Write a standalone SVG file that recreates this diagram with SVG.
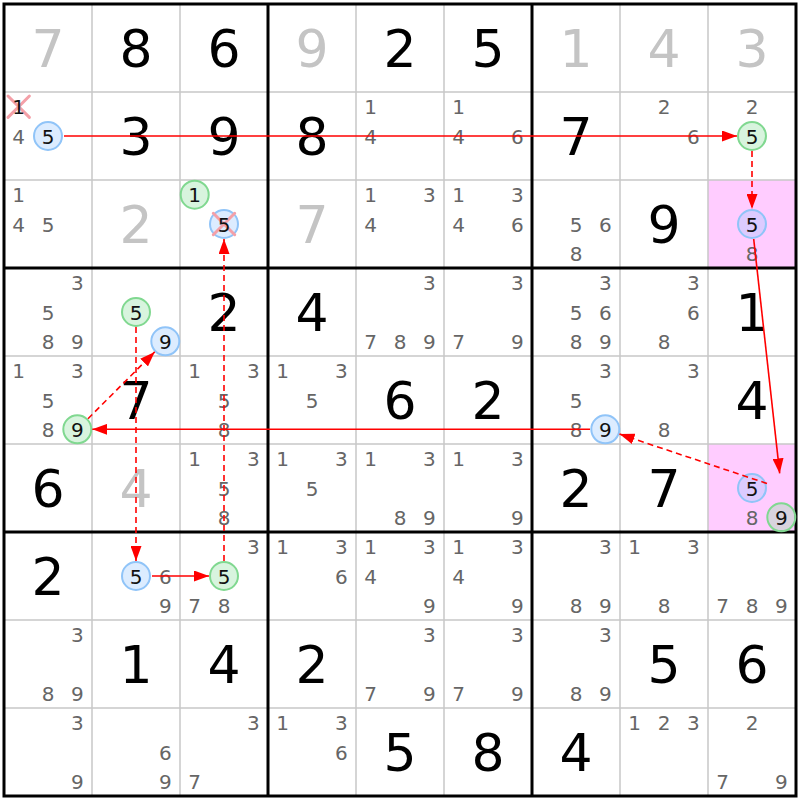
<svg xmlns="http://www.w3.org/2000/svg" width="800" height="800" viewBox="0 0 800 800">
<style>
text{font-family:"DejaVu Sans","Verdana",sans-serif;text-anchor:middle}
.b{font-size:52px;fill:#000}
.g{font-size:52px;fill:#c4c4c4}
.c{font-size:20px;fill:#666}
.k{font-size:20px;fill:#111}
.cb{fill:#9cc8ff;fill-opacity:0.35;stroke:#90c4f8;stroke-width:2}
.cg{fill:#90e0a0;fill-opacity:0.35;stroke:#80d890;stroke-width:2}
.x{stroke:#f4a0a8;stroke-width:3;stroke-linecap:round}
.thin{stroke:#c8c8c8;stroke-width:1.5}
.thick{stroke:#000;stroke-width:3}
.a{stroke:#ff0000;stroke-width:1.6;fill:none}
.d{stroke-dasharray:6,4}
</style>
<defs>
<marker id="ah" markerUnits="userSpaceOnUse" markerWidth="15" markerHeight="11" refX="15" refY="5.5" orient="auto">
<path d="M0,0 L15,5.5 L0,11 z" fill="#ff0000"/>
</marker>
</defs>
<rect x="0" y="0" width="800" height="800" fill="#fff"/>
<g id="highlights">
<rect x="708" y="180" width="88" height="88" fill="#ffccff"/>
<rect x="708" y="444" width="88" height="88" fill="#ffccff"/>
</g>
<g id="grid">
<path class="thin" d="M92,4V796M180,4V796M356,4V796M444,4V796M620,4V796M708,4V796M4,92H796M4,180H796M4,356H796M4,444H796M4,620H796M4,708H796"/>
<path class="thick" d="M268,4V796M532,4V796M4,268H796M4,532H796"/>
<rect x="4" y="4" width="792" height="792" fill="none" stroke="#000" stroke-width="3"/>
</g>
<g id="cells">
<g id="r1c1" transform="translate(4,4)"><text class="g" x="44" y="63">7</text></g>
<g id="r1c2" transform="translate(92,4)"><text class="b" x="44" y="63">8</text></g>
<g id="r1c3" transform="translate(180,4)"><text class="b" x="44" y="63">6</text></g>
<g id="r1c4" transform="translate(268,4)"><text class="g" x="44" y="63">9</text></g>
<g id="r1c5" transform="translate(356,4)"><text class="b" x="44" y="63">2</text></g>
<g id="r1c6" transform="translate(444,4)"><text class="b" x="44" y="63">5</text></g>
<g id="r1c7" transform="translate(532,4)"><text class="g" x="44" y="63">1</text></g>
<g id="r1c8" transform="translate(620,4)"><text class="g" x="44" y="63">4</text></g>
<g id="r1c9" transform="translate(708,4)"><text class="g" x="44" y="63">3</text></g>

<g id="r2c1" transform="translate(4,92)">
<path class="x" d="M4,4L25.4,25.4M25.4,4L4,25.4"/>
<text class="k" x="14.7" y="22.2">1</text>
<text class="c" x="14.7" y="51.5">4</text>
<circle class="cb" cx="44" cy="44" r="14"/><text class="k" x="44" y="51.5">5</text>
</g>
<g id="r2c2" transform="translate(92,92)"><text class="b" x="44" y="63">3</text></g>
<g id="r2c3" transform="translate(180,92)"><text class="b" x="44" y="63">9</text></g>
<g id="r2c4" transform="translate(268,92)"><text class="b" x="44" y="63">8</text></g>
<g id="r2c5" transform="translate(356,92)"><text class="c" x="14.7" y="22.2">1</text><text class="c" x="14.7" y="51.5">4</text></g>
<g id="r2c6" transform="translate(444,92)"><text class="c" x="14.7" y="22.2">1</text><text class="c" x="14.7" y="51.5">4</text><text class="c" x="73.3" y="51.5">6</text></g>
<g id="r2c7" transform="translate(532,92)"><text class="b" x="44" y="63">7</text></g>
<g id="r2c8" transform="translate(620,92)"><text class="c" x="44" y="22.2">2</text><text class="c" x="73.3" y="51.5">6</text></g>
<g id="r2c9" transform="translate(708,92)"><text class="c" x="44" y="22.2">2</text><circle class="cg" cx="44" cy="44" r="14"/><text class="k" x="44" y="51.5">5</text></g>

<g id="r3c1" transform="translate(4,180)"><text class="c" x="14.7" y="22.2">1</text><text class="c" x="14.7" y="51.5">4</text><text class="c" x="44" y="51.5">5</text></g>
<g id="r3c2" transform="translate(92,180)"><text class="g" x="44" y="63">2</text></g>
<g id="r3c3" transform="translate(180,180)">
<circle class="cg" cx="14.7" cy="14.7" r="14"/><text class="k" x="14.7" y="22.2">1</text>
<circle class="cb" cx="44" cy="44" r="14"/>
<path class="x" d="M33.3,33.3L54.7,54.7M54.7,33.3L33.3,54.7"/>
<text class="k" x="44" y="51.5">5</text>
</g>
<g id="r3c4" transform="translate(268,180)"><text class="g" x="44" y="63">7</text></g>
<g id="r3c5" transform="translate(356,180)"><text class="c" x="14.7" y="22.2">1</text><text class="c" x="73.3" y="22.2">3</text><text class="c" x="14.7" y="51.5">4</text></g>
<g id="r3c6" transform="translate(444,180)"><text class="c" x="14.7" y="22.2">1</text><text class="c" x="73.3" y="22.2">3</text><text class="c" x="14.7" y="51.5">4</text><text class="c" x="73.3" y="51.5">6</text></g>
<g id="r3c7" transform="translate(532,180)"><text class="c" x="44" y="51.5">5</text><text class="c" x="73.3" y="51.5">6</text><text class="c" x="44" y="80.8">8</text></g>
<g id="r3c8" transform="translate(620,180)"><text class="b" x="44" y="63">9</text></g>
<g id="r3c9" transform="translate(708,180)"><circle class="cb" cx="44" cy="44" r="14"/><text class="k" x="44" y="51.5">5</text><text class="c" x="44" y="80.8">8</text></g>

<g id="r4c1" transform="translate(4,268)"><text class="c" x="73.3" y="22.2">3</text><text class="c" x="44" y="51.5">5</text><text class="c" x="44" y="80.8">8</text><text class="c" x="73.3" y="80.8">9</text></g>
<g id="r4c2" transform="translate(92,268)"><circle class="cg" cx="44" cy="44" r="14"/><text class="k" x="44" y="51.5">5</text><circle class="cb" cx="73.3" cy="73.3" r="14"/><text class="k" x="73.3" y="80.8">9</text></g>
<g id="r4c3" transform="translate(180,268)"><text class="b" x="44" y="63">2</text></g>
<g id="r4c4" transform="translate(268,268)"><text class="b" x="44" y="63">4</text></g>
<g id="r4c5" transform="translate(356,268)"><text class="c" x="73.3" y="22.2">3</text><text class="c" x="14.7" y="80.8">7</text><text class="c" x="44" y="80.8">8</text><text class="c" x="73.3" y="80.8">9</text></g>
<g id="r4c6" transform="translate(444,268)"><text class="c" x="73.3" y="22.2">3</text><text class="c" x="14.7" y="80.8">7</text><text class="c" x="73.3" y="80.8">9</text></g>
<g id="r4c7" transform="translate(532,268)"><text class="c" x="73.3" y="22.2">3</text><text class="c" x="44" y="51.5">5</text><text class="c" x="73.3" y="51.5">6</text><text class="c" x="44" y="80.8">8</text><text class="c" x="73.3" y="80.8">9</text></g>
<g id="r4c8" transform="translate(620,268)"><text class="c" x="73.3" y="22.2">3</text><text class="c" x="73.3" y="51.5">6</text><text class="c" x="44" y="80.8">8</text></g>
<g id="r4c9" transform="translate(708,268)"><text class="b" x="44" y="63">1</text></g>

<g id="r5c1" transform="translate(4,356)"><text class="c" x="14.7" y="22.2">1</text><text class="c" x="73.3" y="22.2">3</text><text class="c" x="44" y="51.5">5</text><text class="c" x="44" y="80.8">8</text><circle class="cg" cx="73.3" cy="73.3" r="14"/><text class="k" x="73.3" y="80.8">9</text></g>
<g id="r5c2" transform="translate(92,356)"><text class="b" x="44" y="63">7</text></g>
<g id="r5c3" transform="translate(180,356)"><text class="c" x="14.7" y="22.2">1</text><text class="c" x="73.3" y="22.2">3</text><text class="c" x="44" y="51.5">5</text><text class="c" x="44" y="80.8">8</text></g>
<g id="r5c4" transform="translate(268,356)"><text class="c" x="14.7" y="22.2">1</text><text class="c" x="73.3" y="22.2">3</text><text class="c" x="44" y="51.5">5</text></g>
<g id="r5c5" transform="translate(356,356)"><text class="b" x="44" y="63">6</text></g>
<g id="r5c6" transform="translate(444,356)"><text class="b" x="44" y="63">2</text></g>
<g id="r5c7" transform="translate(532,356)"><text class="c" x="73.3" y="22.2">3</text><text class="c" x="44" y="51.5">5</text><text class="c" x="44" y="80.8">8</text><circle class="cb" cx="73.3" cy="73.3" r="14"/><text class="k" x="73.3" y="80.8">9</text></g>
<g id="r5c8" transform="translate(620,356)"><text class="c" x="73.3" y="22.2">3</text><text class="c" x="44" y="80.8">8</text></g>
<g id="r5c9" transform="translate(708,356)"><text class="b" x="44" y="63">4</text></g>

<g id="r6c1" transform="translate(4,444)"><text class="b" x="44" y="63">6</text></g>
<g id="r6c2" transform="translate(92,444)"><text class="g" x="44" y="63">4</text></g>
<g id="r6c3" transform="translate(180,444)"><text class="c" x="14.7" y="22.2">1</text><text class="c" x="73.3" y="22.2">3</text><text class="c" x="44" y="51.5">5</text><text class="c" x="44" y="80.8">8</text></g>
<g id="r6c4" transform="translate(268,444)"><text class="c" x="14.7" y="22.2">1</text><text class="c" x="73.3" y="22.2">3</text><text class="c" x="44" y="51.5">5</text></g>
<g id="r6c5" transform="translate(356,444)"><text class="c" x="14.7" y="22.2">1</text><text class="c" x="73.3" y="22.2">3</text><text class="c" x="44" y="80.8">8</text><text class="c" x="73.3" y="80.8">9</text></g>
<g id="r6c6" transform="translate(444,444)"><text class="c" x="14.7" y="22.2">1</text><text class="c" x="73.3" y="22.2">3</text><text class="c" x="73.3" y="80.8">9</text></g>
<g id="r6c7" transform="translate(532,444)"><text class="b" x="44" y="63">2</text></g>
<g id="r6c8" transform="translate(620,444)"><text class="b" x="44" y="63">7</text></g>
<g id="r6c9" transform="translate(708,444)"><circle class="cb" cx="44" cy="44" r="14"/><text class="k" x="44" y="51.5">5</text><text class="c" x="44" y="80.8">8</text><circle class="cg" cx="73.3" cy="73.3" r="14"/><text class="k" x="73.3" y="80.8">9</text></g>

<g id="r7c1" transform="translate(4,532)"><text class="b" x="44" y="63">2</text></g>
<g id="r7c2" transform="translate(92,532)"><circle class="cb" cx="44" cy="44" r="14"/><text class="k" x="44" y="51.5">5</text><text class="c" x="73.3" y="51.5">6</text><text class="c" x="73.3" y="80.8">9</text></g>
<g id="r7c3" transform="translate(180,532)"><text class="c" x="73.3" y="22.2">3</text><circle class="cg" cx="44" cy="44" r="14"/><text class="k" x="44" y="51.5">5</text><text class="c" x="14.7" y="80.8">7</text><text class="c" x="44" y="80.8">8</text></g>
<g id="r7c4" transform="translate(268,532)"><text class="c" x="14.7" y="22.2">1</text><text class="c" x="73.3" y="22.2">3</text><text class="c" x="73.3" y="51.5">6</text></g>
<g id="r7c5" transform="translate(356,532)"><text class="c" x="14.7" y="22.2">1</text><text class="c" x="73.3" y="22.2">3</text><text class="c" x="14.7" y="51.5">4</text><text class="c" x="73.3" y="80.8">9</text></g>
<g id="r7c6" transform="translate(444,532)"><text class="c" x="14.7" y="22.2">1</text><text class="c" x="73.3" y="22.2">3</text><text class="c" x="14.7" y="51.5">4</text><text class="c" x="73.3" y="80.8">9</text></g>
<g id="r7c7" transform="translate(532,532)"><text class="c" x="73.3" y="22.2">3</text><text class="c" x="44" y="80.8">8</text><text class="c" x="73.3" y="80.8">9</text></g>
<g id="r7c8" transform="translate(620,532)"><text class="c" x="14.7" y="22.2">1</text><text class="c" x="73.3" y="22.2">3</text><text class="c" x="44" y="80.8">8</text></g>
<g id="r7c9" transform="translate(708,532)"><text class="c" x="14.7" y="80.8">7</text><text class="c" x="44" y="80.8">8</text><text class="c" x="73.3" y="80.8">9</text></g>

<g id="r8c1" transform="translate(4,620)"><text class="c" x="73.3" y="22.2">3</text><text class="c" x="44" y="80.8">8</text><text class="c" x="73.3" y="80.8">9</text></g>
<g id="r8c2" transform="translate(92,620)"><text class="b" x="44" y="63">1</text></g>
<g id="r8c3" transform="translate(180,620)"><text class="b" x="44" y="63">4</text></g>
<g id="r8c4" transform="translate(268,620)"><text class="b" x="44" y="63">2</text></g>
<g id="r8c5" transform="translate(356,620)"><text class="c" x="73.3" y="22.2">3</text><text class="c" x="14.7" y="80.8">7</text><text class="c" x="73.3" y="80.8">9</text></g>
<g id="r8c6" transform="translate(444,620)"><text class="c" x="73.3" y="22.2">3</text><text class="c" x="14.7" y="80.8">7</text><text class="c" x="73.3" y="80.8">9</text></g>
<g id="r8c7" transform="translate(532,620)"><text class="c" x="73.3" y="22.2">3</text><text class="c" x="44" y="80.8">8</text><text class="c" x="73.3" y="80.8">9</text></g>
<g id="r8c8" transform="translate(620,620)"><text class="b" x="44" y="63">5</text></g>
<g id="r8c9" transform="translate(708,620)"><text class="b" x="44" y="63">6</text></g>

<g id="r9c1" transform="translate(4,708)"><text class="c" x="73.3" y="22.2">3</text><text class="c" x="73.3" y="80.8">9</text></g>
<g id="r9c2" transform="translate(92,708)"><text class="c" x="73.3" y="51.5">6</text><text class="c" x="73.3" y="80.8">9</text></g>
<g id="r9c3" transform="translate(180,708)"><text class="c" x="73.3" y="22.2">3</text><text class="c" x="14.7" y="80.8">7</text></g>
<g id="r9c4" transform="translate(268,708)"><text class="c" x="14.7" y="22.2">1</text><text class="c" x="73.3" y="22.2">3</text><text class="c" x="73.3" y="51.5">6</text></g>
<g id="r9c5" transform="translate(356,708)"><text class="b" x="44" y="63">5</text></g>
<g id="r9c6" transform="translate(444,708)"><text class="b" x="44" y="63">8</text></g>
<g id="r9c7" transform="translate(532,708)"><text class="b" x="44" y="63">4</text></g>
<g id="r9c8" transform="translate(620,708)"><text class="c" x="14.7" y="22.2">1</text><text class="c" x="44" y="22.2">2</text><text class="c" x="73.3" y="22.2">3</text></g>
<g id="r9c9" transform="translate(708,708)"><text class="c" x="44" y="22.2">2</text><text class="c" x="14.7" y="80.8">7</text><text class="c" x="73.3" y="80.8">9</text></g>
</g>
<g id="links">
<line class="a" x1="64" y1="136" x2="737" y2="136" marker-end="url(#ah)"/>
<line class="a d" x1="752" y1="151" x2="752" y2="209" marker-end="url(#ah)"/>
<line class="a" x1="753.7" y1="239" x2="779.7" y2="473.4" marker-end="url(#ah)"/>
<line class="a d" x1="767" y1="483.5" x2="619.5" y2="434.1" marker-end="url(#ah)"/>
<line class="a" x1="590" y1="429.3" x2="92.3" y2="429.3" marker-end="url(#ah)"/>
<line class="a d" x1="88" y1="418.7" x2="154.7" y2="351.9" marker-end="url(#ah)"/>
<line class="a d" x1="136" y1="327" x2="136" y2="561" marker-end="url(#ah)"/>
<line class="a" x1="152" y1="576" x2="209" y2="576" marker-end="url(#ah)"/>
<line class="a d" x1="224" y1="561" x2="224" y2="239" marker-end="url(#ah)"/>
</g>
</svg>
